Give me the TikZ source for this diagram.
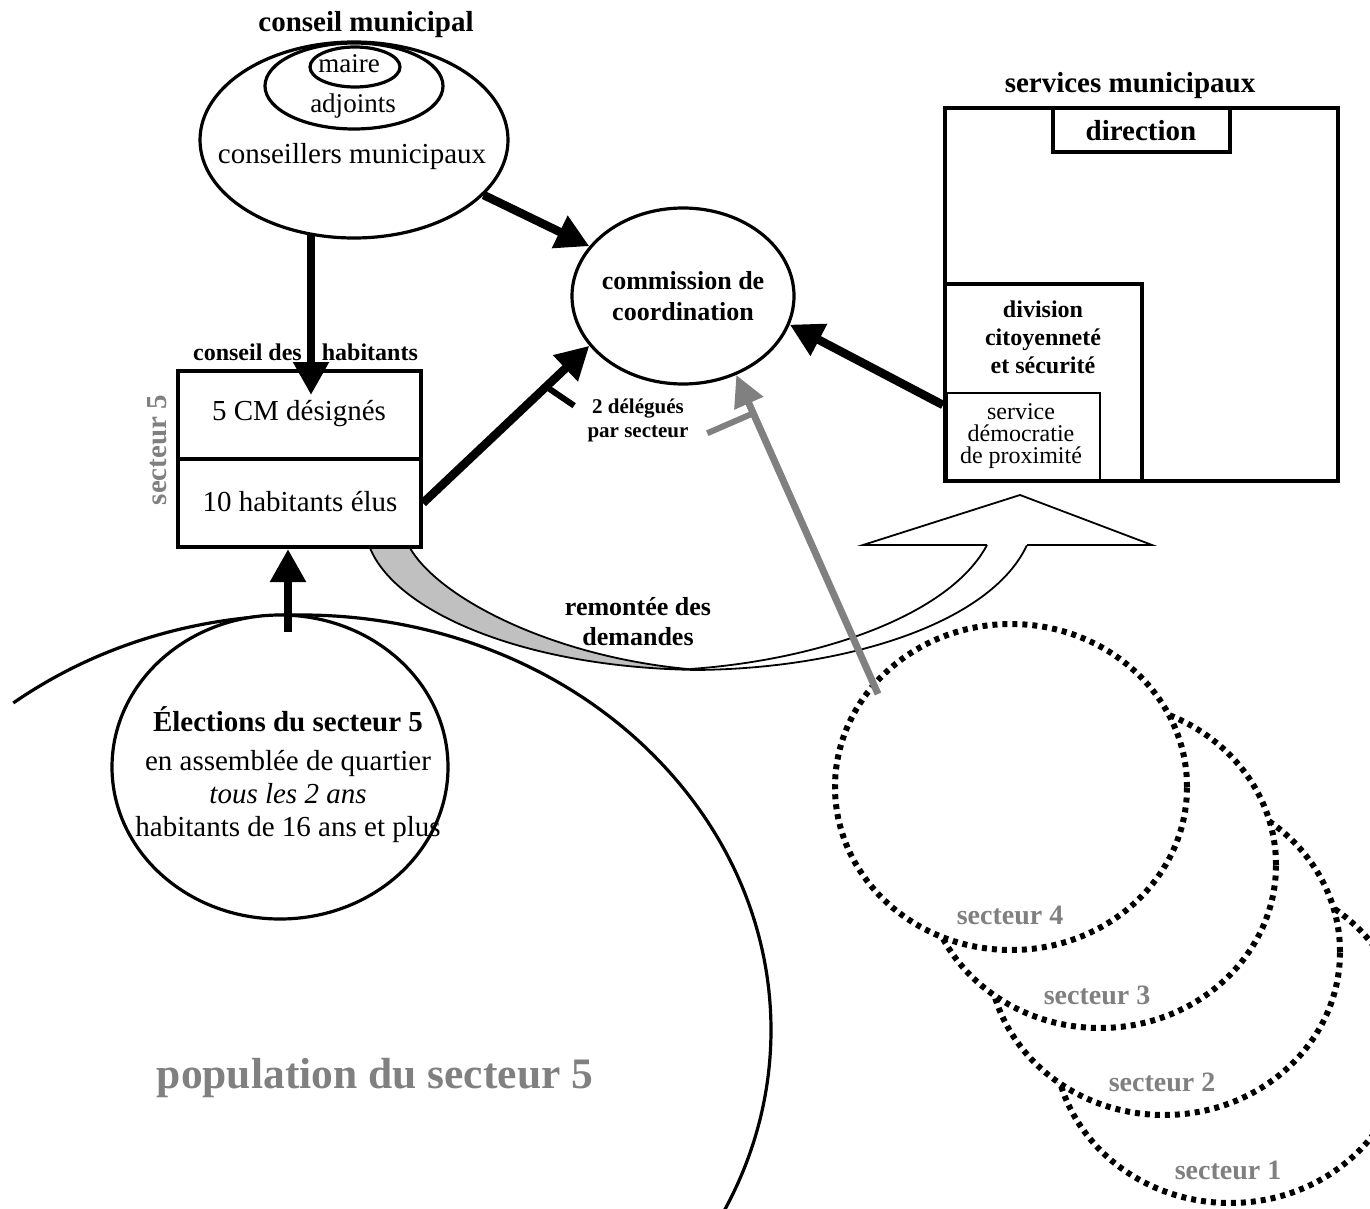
\documentclass[tikz,border=0pt]{standalone}
\usepackage{fontspec}
\setmainfont{Liberation Serif}
\usetikzlibrary{shapes.geometric,arrows.meta}
\definecolor{txtgrey}{RGB}{128,128,128}
\definecolor{ribbongrey}{RGB}{192,192,192}
\newcommand\myfs[2]{\fontsize{#1pt}{#2pt}\selectfont}
\begin{document}
\begin{tikzpicture}[x=1pt,y=-1pt,
  thickbox/.style={draw, line width=4pt, rectangle, inner sep=0pt},
  thinbox/.style={draw, line width=1.8pt, rectangle, inner sep=0pt},
  ell/.style={draw, ellipse, line width=3.2pt, inner sep=0pt},
  bigarrow/.style={line width=8.5pt, -{Triangle[length=33pt,width=34pt]}},
  greyarrow/.style={draw=txtgrey, line width=7pt, -{Triangle[length=31pt,width=30pt]}},
  tickblack/.style={line width=6pt},
  tickgrey/.style={draw=txtgrey, line width=6pt},
  dotc/.style={draw, ellipse, inner sep=0pt, line width=6pt, dash pattern=on 5pt off 5pt,
    fill=white, minimum width=352pt, minimum height=326pt},
  ribbonline/.style={line width=1.8pt},
  lbl/.style={inner sep=0pt, align=center},
  greylbl/.style={inner sep=0pt, text=txtgrey, font=\bfseries\myfs{28}{30}},
]
\useasboundingbox (0,0) rectangle (1370,1209);
\clip (0,0) rectangle (1370,1209);

% sector circles (back to front)
\node[dotc] (s1) at (1230,1040) {};
\node[dotc] (s2) at (1164,952) {};
\node[dotc] (s3) at (1100,865) {};
\node[dotc] (s4) at (1011,787) {};
\node[greylbl] (ls4) at (1010,915) {secteur 4};
\node[greylbl] (ls3) at (1097,995) {secteur 3};
\node[greylbl] (ls2) at (1162,1082) {secteur 2};
\node[greylbl] (ls1) at (1228,1170) {secteur 1};

% population of sector 5
\draw[line width=3.2pt] (302,1030) ++(128:469pt and 415pt)
  arc[start angle=128, end angle=-32, x radius=469pt, y radius=415pt];
\node[lbl, text=txtgrey, font=\bfseries\myfs{43.5}{46}] (pop) at (375,1078) {population du secteur 5};

% elections
\node[ell, fill=white, minimum width=336pt, minimum height=304pt] (elec) at (280,767) {};
\node[lbl, font=\myfs{29}{33}] (electxt) at (288,775)
  {\textbf{Élections du secteur 5}\\[6pt] en assemblée de quartier\\ \textit{tous les 2 ans}\\ habitants de 16 ans et plus};

% ribbon arrow "remontee des demandes"
\filldraw[fill=ribbongrey, ribbonline] (370,548) .. controls (395,610) and (520,668) .. (700,670)
  .. controls (560,660) and (440,600) .. (410,548) -- cycle;
\fill[white] (697,668) .. controls (820,660) and (950,615) .. (987,545) -- (1027,545)
  .. controls (990,625) and (840,670) .. (690,670) -- cycle;
\draw[ribbonline] (690,669) .. controls (820,660) and (950,615) .. (987,545);
\draw[ribbonline] (690,670) .. controls (840,670) and (990,625) .. (1027,545);
\filldraw[fill=white, ribbonline, line join=miter] (987,545) -- (863,545) -- (1020,495) -- (1152,545) -- (1027,545);
\node[lbl, font=\bfseries\myfs{26}{30}] (rem) at (638,622) {remontée des\\demandes};

% conseil municipal
\node[ell, minimum width=308pt, minimum height=196pt] (cm) at (354,140) {};
\node[ell, minimum width=178pt, minimum height=86pt] (adj) at (354,86) {};
\node[ell, minimum width=90pt, minimum height=40pt] (maire) at (355,67) {};
\node[lbl, font=\bfseries\myfs{29}{30}] (cmtitle) at (366,25) {conseil municipal};
\node[lbl, font=\myfs{27}{28}] (mairetxt) at (349,64) {maire};
\node[lbl, font=\myfs{27}{28}] (adjtxt) at (353,106) {adjoints};
\node[lbl, font=\myfs{29}{30}] (cmtxt) at (352,157) {conseillers municipaux};

% conseil des habitants
\node[thickbox, fill=white, minimum width=243pt, minimum height=88pt] (desig) at (299.5,415) {};
\node[thickbox, fill=white, minimum width=243pt, minimum height=88pt] (hab) at (299.5,503) {};
\node[lbl, font=\myfs{29}{30}] (desigtxt) at (299,414) {5 CM désignés};
\node[lbl, font=\myfs{29}{30}] (habtxt) at (300,502) {10 habitants élus};
\node[lbl, font=\bfseries\myfs{24}{26}] (chtitle) at (305.5,352) {conseil des\hspace{20pt}habitants};
\node[lbl, text=txtgrey, font=\bfseries\myfs{29}{30}, rotate=90] (s5lbl) at (157,450) {secteur 5};

% services municipaux
\node[thickbox, minimum width=393pt, minimum height=373pt] (serv) at (1141.5,294.5) {};
\node[thickbox, minimum width=177pt, minimum height=44pt] (dir) at (1141.5,130) {};
\node[thickbox, minimum width=197pt, minimum height=197pt] (div) at (1043.5,382.5) {};
\node[thinbox, minimum width=153pt, minimum height=88pt] (sdp) at (1023.5,437) {};
\node[lbl, font=\bfseries\myfs{29}{30}] (servtitle) at (1130,86) {services municipaux};
\node[lbl, font=\bfseries\myfs{29}{30}] (dirtxt) at (1141,131) {direction};
\node[lbl, font=\bfseries\myfs{24}{28}] (divtxt) at (1043,337) {division\\citoyenneté\\et sécurité};
\node[lbl, font=\myfs{24}{22}] (sdptxt) at (1021,436) {service\\démocratie\\de proximité};

% commission de coordination
\node[ell, minimum width=222pt, minimum height=176pt] (com) at (683,296) {};
\node[lbl, font=\bfseries\myfs{26}{31}] (comtxt) at (683,296) {commission de\\coordination};

% connectors
\coordinate (cmtip) at (311,395);
\draw[bigarrow] ([yshift=5pt]cm.south -| cmtip) -- (cmtip);
\draw[bigarrow] (cm.337) -- (com.152);
\draw[bigarrow] (hab.east) -- (com.208);
\coordinate (elecarrow) at (288,632);
\draw[bigarrow] (elecarrow) -- (elecarrow |- hab.south);
\draw[bigarrow] ([yshift=-110.5pt]serv.west) -- (com.345);
\coordinate (greystart) at (878,694);
\draw[greyarrow] (greystart) -- (com.304);

% delegate ticks
\path (hab.east) -- coordinate[pos=0.74] (tickA) (com.208);
\draw[tickblack] (tickA) -- ++(28,19);
\path (greystart) -- coordinate[pos=0.88] (tickB) (com.304);
\draw[tickgrey] (tickB) -- ++(-46,20);
\node[lbl, font=\bfseries\myfs{21}{24}] (deleg) at (638,420) {2 délégués\\par secteur};
\end{tikzpicture}
\end{document}
